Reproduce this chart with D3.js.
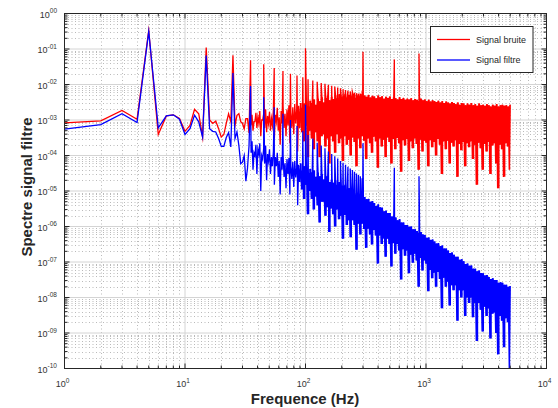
<!DOCTYPE html>
<html><head><meta charset="utf-8">
<script src="https://cdn.jsdelivr.net/npm/d3@7"></script>
<style>
body{margin:0;background:#fff}
svg{display:block}
text{font-family:"Liberation Sans",Arial,Helvetica,sans-serif}
</style>
</head><body>
<svg id="c" width="558" height="408"></svg>
<script>
// ---------- data ----------
const lowFreqs = d3.range(1, 36); // 1..35 Hz, 1 Hz steps
const redLow = [8.3e-4,9.4e-4,1.85e-3,1.05e-3,0.33,3.9e-4,1.3e-3,1.4e-3,1.1e-3,4.8e-4,
  7.0e-4,2.0e-3,1.5e-3,3.3e-4,0.11,1.0e-3,8.0e-4,9.3e-4,5.7e-4,3.3e-4,
  3.9e-4,8.0e-4,1.5e-3,9.0e-4,0.067,7.0e-4,1.35e-3,1.5e-3,9.0e-4,8.0e-4,
  5.7e-4,1.1e-3,1.1e-3,4.3e-4,0.048];
const blueLow = [5.5e-4,7.4e-4,1.5e-3,8.5e-4,0.31,6.0e-4,1.3e-3,1.4e-3,1.05e-3,3.9e-4,
  5.7e-4,1.37e-3,8.9e-4,3.3e-4,0.065,5.7e-4,4.8e-4,4.6e-4,3.0e-4,1.8e-4,
  1.8e-4,3.2e-4,4.4e-4,1.75e-4,0.021,3.0e-4,4.6e-4,1.9e-4,5.9e-5,6.5e-5,
  1.0e-4,1.9e-5,4.3e-5,1.9e-4,0.009];

// harmonic comb peaks (Hz) and their heights
const harmonicFreqs = [45,55,65,75,85,95,105,115,125,135,145,155,165,175,185,195,205,215,225,235,245,255,265,275,285,295];
const redHarm = [0.037,0.029,0.024,0.020,0.018,0.016,0.014,0.013,0.012,0.011,0.0105,0.0098,0.0092,0.0087,0.0082,0.0078,0.0074,0.0070,0.0067,0.0064,0.0062,0.0059,0.0057,0.0055,0.0053,0.0051];
const blueHarm = [0.0044,0.0023,0.0015,1.0e-3,6.8e-4,5e-4,3.8e-4,3e-4,2.3e-4,1.9e-4,1.6e-4,1.3e-4,1.1e-4,9.5e-5,8.2e-5,7e-5,6.2e-5,5.5e-5,4.8e-5,4.3e-5,3.9e-5,3.5e-5,3.1e-5,2.8e-5,2.6e-5,2.3e-5];

// isolated tones
const toneFreqs = [100,300,546,875];
const redTones = [0.105,0.083,0.051,0.075];
const blueTones = [2.7e-3,2.2e-4,4.5e-5,2.6e-5];

// dense noise band, 36 Hz .. 5000 Hz, log-spaced bins: local max / min
const bandStart = 36, bandEnd = 5000, bandCount = 134, bandFillFrom = 90;
const redHi = [1.4e-3,9e-4,1.6e-3,1.2e-3,1.8e-3,1.0e-3,1.5e-3,2.0e-3,1.3e-3,1.7e-3,1.1e-3,
 1.9e-3,1.4e-3,2.2e-3,1.2e-3,1.8e-3,2.4e-3,1.5e-3,2.0e-3,2.6e-3,1.6e-3,
 2.3e-3,2.8e-3,1.9e-3,2.5e-3,3.0e-3,2.2e-3,2.9e-3,3.3e-3,2.4e-3,3.5e-3,
 3.0e-3,3.8e-3,2.7e-3,4.0e-3,3.4e-3,4.4e-3,3.1e-3,4.2e-3,4.8e-3,3.6e-3,
 4.5e-3,3.9e-3,5.0e-3,4.1e-3,5.3e-3,4.4e-3,4.9e-3,5.5e-3,4.3e-3,5.1e-3,
 4.6e-3,5.4e-3,4.2e-3,5.0e-3,4.7e-3,5.2e-3,4.4e-3,4.9e-3,4.5e-3,5.1e-3,
 4.3e-3,4.8e-3,4.6e-3,4.1e-3,4.9e-3,4.4e-3,4.7e-3,4.0e-3,4.5e-3,4.2e-3,
 4.6e-3,3.9e-3,4.3e-3,4.1e-3,3.8e-3,4.4e-3,3.9e-3,4.2e-3,3.7e-3,4.0e-3,
 3.8e-3,4.1e-3,3.6e-3,3.9e-3,3.7e-3,3.5e-3,4.0e-3,3.6e-3,3.8e-3,3.4e-3,
 3.7e-3,3.3e-3,3.6e-3,3.4e-3,3.2e-3,3.5e-3,3.1e-3,3.4e-3,3.0e-3,3.3e-3,
 3.1e-3,2.9e-3,3.2e-3,3.0e-3,2.8e-3,3.1e-3,2.7e-3,3.0e-3,2.9e-3,2.6e-3,
 2.9e-3,2.7e-3,3.0e-3,2.6e-3,2.8e-3,2.5e-3,2.9e-3,2.6e-3,2.7e-3,2.5e-3,
 2.8e-3,2.6e-3,2.4e-3,2.7e-3,2.5e-3,2.8e-3,2.4e-3,2.6e-3,2.7e-3,2.5e-3,2.6e-3,2.4e-3,2.7e-3];
const redLo = [7e-4,5e-4,9e-4,6e-4,8e-4,3.5e-4,1.0e-3,6e-4,4.5e-4,8e-4,5e-4,
 7e-4,3e-4,9e-4,5e-4,2e-4,8e-4,6e-4,3.5e-4,7e-4,2.2e-4,
 6e-4,4e-4,8e-4,1.3e-4,6e-4,4.5e-4,2.5e-4,7e-4,9e-5,5e-4,
 3e-4,1.5e-4,4.5e-4,2.5e-4,9e-5,3.5e-4,4e-4,1.8e-4,3e-4,6e-5,
 3.5e-4,2.5e-4,1.2e-4,4e-4,2.2e-4,3e-4,7e-5,3.5e-4,2e-4,2.8e-4,
 1.0e-4,3.2e-4,2.4e-4,5e-5,3e-4,1.6e-4,3.5e-4,2.6e-4,8e-5,3e-4,
 2.2e-4,1.2e-4,3.4e-4,2.5e-4,4.5e-5,3e-4,1.8e-4,2.8e-4,9e-5,3.2e-4,
 2.4e-4,6e-5,2.9e-4,1.5e-4,3.1e-4,2.2e-4,3.5e-5,2.7e-4,1.9e-4,2.9e-4,
 7e-5,2.5e-4,1.6e-4,3e-4,2.1e-4,4e-5,2.8e-4,1.3e-4,2.6e-4,2.3e-4,
 5e-5,2.7e-4,1.7e-4,2.4e-4,1.0e-4,2.9e-4,2e-4,3e-5,2.5e-4,1.5e-4,
 2.6e-4,6e-5,2.3e-4,1.8e-4,2.7e-4,2.5e-5,2.1e-4,1.4e-4,2.4e-4,5e-5,
 2.2e-4,1.7e-4,2.5e-4,8e-5,2e-4,1.5e-5,2.3e-4,1.6e-4,4e-5,2.1e-4,
 1.3e-4,2.4e-4,3e-5,1.9e-4,2.2e-4,6e-5,1.2e-5,2e-4,1.5e-4,2.5e-5,2.2e-4,1.8e-4,4e-5];
const blueHi = [2.5e-4,1.2e-4,2.0e-4,1.5e-4,2.2e-4,1.0e-4,1.6e-4,1.9e-4,1.1e-4,1.5e-4,9e-5,
 1.3e-4,9e-5,1.2e-4,7e-5,9e-5,1.0e-4,6e-5,8e-5,8.5e-5,5e-5,
 6.5e-5,7e-5,4.5e-5,5.5e-5,6e-5,3.8e-5,5e-5,5e-5,3.2e-5,4.2e-5,
 3.4e-5,3.8e-5,2.5e-5,3.3e-5,2.6e-5,3.0e-5,2.1e-5,2.6e-5,2.7e-5,1.8e-5,
 2.1e-5,1.7e-5,2.0e-5,1.5e-5,1.8e-5,1.4e-5,1.4e-5,1.5e-5,1.1e-5,1.2e-5,
 1.05e-5,1.1e-5,8e-6,9e-6,8e-6,8.2e-6,6.5e-6,6.8e-6,5.9e-6,6e-6,
 5e-6,5.2e-6,4.6e-6,3.8e-6,4.2e-6,3.5e-6,3.4e-6,2.7e-6,2.8e-6,2.4e-6,
 2.4e-6,1.9e-6,2e-6,1.8e-6,1.5e-6,1.6e-6,1.3e-6,1.3e-6,1.1e-6,1.1e-6,
 9.8e-7,1.0e-6,8.3e-7,8.4e-7,7.5e-7,6.6e-7,7e-7,6e-7,5.8e-7,4.8e-7,
 4.9e-7,4.2e-7,4.3e-7,3.8e-7,3.3e-7,3.4e-7,2.8e-7,2.9e-7,2.4e-7,2.4e-7,
 2.1e-7,1.8e-7,1.85e-7,1.6e-7,1.4e-7,1.4e-7,1.15e-7,1.2e-7,1.05e-7,8.8e-8,
 9e-8,7.8e-8,8e-8,6.5e-8,6.5e-8,5.5e-8,5.8e-8,4.9e-8,4.8e-8,4.2e-8,
 4.3e-8,3.8e-8,3.3e-8,3.5e-8,3.1e-8,3.1e-8,2.6e-8,2.7e-8,2.6e-8,2.3e-8,2.3e-8,2.0e-8,2.1e-8];
const blueLo = [1.2e-4,4e-5,1.0e-4,3e-5,1.1e-4,1.0e-5,8e-5,6e-5,2e-5,7e-5,3e-5,
 5e-5,1.5e-5,5e-5,2.5e-5,8e-6,4e-5,2.5e-5,1.2e-5,3e-5,8e-6,
 2.2e-5,1.3e-5,2.4e-5,4e-6,1.8e-5,1.1e-5,6e-6,1.5e-5,2.2e-6,1.0e-5,
 6e-6,3e-6,7e-6,4e-6,1.3e-6,5e-6,5e-6,2e-6,3.5e-6,7e-7,
 3.2e-6,2.2e-6,1.0e-6,3e-6,1.6e-6,2e-6,4.5e-7,2.1e-6,1.1e-6,1.5e-6,
 5e-7,1.5e-6,1.1e-6,2.2e-7,1.2e-6,6e-7,1.2e-6,8.5e-7,2.5e-7,8.6e-7,
 6e-7,3.1e-7,8e-7,5.6e-7,9e-8,5.6e-7,3.2e-7,4.6e-7,1.4e-7,4.5e-7,
 3.2e-7,7.5e-8,3.4e-7,1.7e-7,3.2e-7,2.1e-7,3.2e-8,2.3e-7,1.5e-7,2.1e-7,
 4.8e-8,1.6e-7,9.5e-8,1.7e-7,1.1e-7,2e-8,1.3e-7,5.8e-8,1.1e-7,9e-8,
 1.5e-8,6e-8,3.5e-8,5e-8,2e-8,5.2e-8,3.3e-8,5e-9,3.6e-8,2e-8,
 2.8e-8,6e-9,2.2e-8,1.6e-8,2.2e-8,2.2e-9,1.6e-8,1e-8,1.6e-8,3e-9,
 1.0e-8,7e-9,1.0e-8,2.8e-9,7e-9,6e-10,7e-9,4.5e-9,1.1e-9,5.5e-9,
 3e-9,5e-9,7e-10,3.5e-9,3.8e-9,1e-9,2.5e-10,3e-9,2.2e-9,4e-10,2.6e-9,2e-9,1.0e-10];

const xTickValues = [1,10,100,1000,10000];
const xTickExps = ["0","1","2","3","4"];
const yTickValues = [1,1e-1,1e-2,1e-3,1e-4,1e-5,1e-6,1e-7,1e-8,1e-9,1e-10];
const yTickExps = ["00","-01","-02","-03","-04","-05","-06","-07","-08","-09","-10"];
const seriesNames = ["Signal bruite","Signal filtre"];
const seriesColors = ["#ff0000","#0000ff"];

// ---------- drawing ----------
const svg = d3.select("#c");
const L = 64.5, R = 546.5, T = 13.5, B = 368.5;
const x = d3.scaleLog().domain([1, 1e4]).range([L, R]);
const y = d3.scaleLog().domain([1e-10, 1]).range([B, T]);

const bandStep = Math.log10(bandEnd / bandStart) / (bandCount - 1);
const bandFreqs = d3.range(bandCount).map(i => bandStart * Math.pow(10, i * bandStep));

function buildSeries(low, hi, lo, harm, tones) {
  const pts = lowFreqs.map((f, i) => [f, low[i]]);
  bandFreqs.forEach((f, i) => {
    pts.push([f / Math.pow(10, bandStep / 2), lo[i]]);
    pts.push([f, hi[i]]);
  });
  harmonicFreqs.forEach((f, i) => pts.push([f, harm[i]]));
  toneFreqs.forEach((f, i) => pts.push([f, tones[i]]));
  pts.sort((a, b) => a[0] - b[0]);
  return pts;
}
function buildBand(hi, lo) {
  return bandFreqs.map((f, i) => ({f: f, hi: hi[i], lo: lo[i]})).filter(d => d.f >= bandFillFrom);
}

// minor grid
const minorX = [], minorY = [];
[1, 10, 100, 1000].forEach(d => { for (let k = 2; k <= 9; k++) minorX.push(k * d); });
for (let e = -10; e < 0; e++) for (let k = 2; k <= 9; k++) minorY.push(k * Math.pow(10, e));

const grid = svg.append("g");
grid.selectAll(".mx").data(minorX).enter().append("line")
  .attr("x1", d => Math.round(x(d)) + 0.5).attr("x2", d => Math.round(x(d)) + 0.5)
  .attr("y1", T).attr("y2", B)
  .attr("stroke", "#a8a8a8").attr("stroke-width", 0.8).attr("stroke-dasharray", "1,2.5");
grid.selectAll(".my").data(minorY).enter().append("line")
  .attr("y1", d => Math.round(y(d)) + 0.5).attr("y2", d => Math.round(y(d)) + 0.5)
  .attr("x1", L).attr("x2", R)
  .attr("stroke", "#a8a8a8").attr("stroke-width", 0.8).attr("stroke-dasharray", "1,2.5");
grid.selectAll(".Mx").data(xTickValues).enter().append("line")
  .attr("x1", d => x(d)).attr("x2", d => x(d)).attr("y1", T).attr("y2", B)
  .attr("stroke", "#d4d4d4").attr("stroke-width", 1);
grid.selectAll(".My").data(yTickValues).enter().append("line")
  .attr("y1", d => y(d)).attr("y2", d => y(d)).attr("x1", L).attr("x2", R)
  .attr("stroke", "#d4d4d4").attr("stroke-width", 1);

// clip
svg.append("clipPath").attr("id", "clip").append("rect")
  .attr("x", L).attr("y", T).attr("width", R - L).attr("height", B - T);

const line = d3.line().x(d => x(d[0])).y(d => y(d[1]));
const area = d3.area().curve(d3.curveStep).x(d => x(d.f)).y0(d => y(d.lo)).y1(d => y(d.hi));
const plot = svg.append("g").attr("clip-path", "url(#clip)");
const series = [
  {pts: buildSeries(redLow, redHi, redLo, redHarm, redTones), band: buildBand(redHi, redLo)},
  {pts: buildSeries(blueLow, blueHi, blueLo, blueHarm, blueTones), band: buildBand(blueHi, blueLo)}
];
series.forEach((s, i) => {
  const g = plot.append("g");
  g.append("path").datum(s.band).attr("d", area).attr("fill", seriesColors[i]).attr("stroke", "none");
  g.append("path").datum(s.pts).attr("d", line)
    .attr("fill", "none").attr("stroke", seriesColors[i])
    .attr("stroke-width", 1.3).attr("stroke-linejoin", "miter").attr("stroke-miterlimit", 10);
});

// frame + ticks
const ax = svg.append("g").attr("stroke", "#262626").attr("stroke-width", 1);
ax.append("rect").attr("x", L).attr("y", T).attr("width", R - L).attr("height", B - T).attr("fill", "none");
function tickX(v, len) {
  ax.append("line").attr("x1", x(v)).attr("x2", x(v)).attr("y1", B).attr("y2", B - len);
  ax.append("line").attr("x1", x(v)).attr("x2", x(v)).attr("y1", T).attr("y2", T + len);
}
function tickY(v, len) {
  ax.append("line").attr("y1", y(v)).attr("y2", y(v)).attr("x1", L).attr("x2", L + len);
  ax.append("line").attr("y1", y(v)).attr("y2", y(v)).attr("x1", R).attr("x2", R - len);
}
xTickValues.forEach(v => tickX(v, 5));
minorX.forEach(v => tickX(v, 3));
yTickValues.forEach(v => tickY(v, 5));
minorY.forEach(v => tickY(v, 3));

// tick labels
const lab = svg.append("g").attr("fill", "#333");
xTickValues.forEach((v, i) => {
  const t = lab.append("text").attr("x", x(v) - 2).attr("y", 387)
    .attr("text-anchor", "middle").attr("font-size", 9);
  t.append("tspan").text("10");
  t.append("tspan").attr("dy", -4.5).attr("font-size", 6.5).text(xTickExps[i]);
});
yTickValues.forEach((v, i) => {
  const t = lab.append("text").attr("x", 57).attr("y", y(v) + 4)
    .attr("text-anchor", "end").attr("font-size", 9);
  t.append("tspan").text("10");
  t.append("tspan").attr("dy", -4.5).attr("font-size", 6.5).text(yTickExps[i]);
});

// axis titles
svg.append("text").attr("x", 305).attr("y", 404).attr("text-anchor", "middle")
  .attr("font-size", 15).attr("font-weight", "bold").attr("fill", "#262626").text("Frequence (Hz)");
svg.append("text").attr("transform", "translate(32,187) rotate(-90)").attr("text-anchor", "middle")
  .attr("font-size", 15).attr("font-weight", "bold").attr("fill", "#262626").text("Spectre signal filtre");

// legend
const lg = svg.append("g");
lg.append("rect").attr("x", 430.5).attr("y", 26.5).attr("width", 102.5).attr("height", 46)
  .attr("fill", "#fff").attr("stroke", "#262626").attr("stroke-width", 1);
seriesNames.forEach((n, i) => {
  const yy = 39.5 + i * 20.5;
  lg.append("rect").attr("x", 437).attr("y", yy - 0.65).attr("width", 33).attr("height", 1.3)
    .attr("fill", seriesColors[i]);
  lg.append("text").attr("x", 476).attr("y", yy + 3.2).attr("font-size", 9)
    .attr("fill", "#262626").text(n);
});
</script>
</body></html>
